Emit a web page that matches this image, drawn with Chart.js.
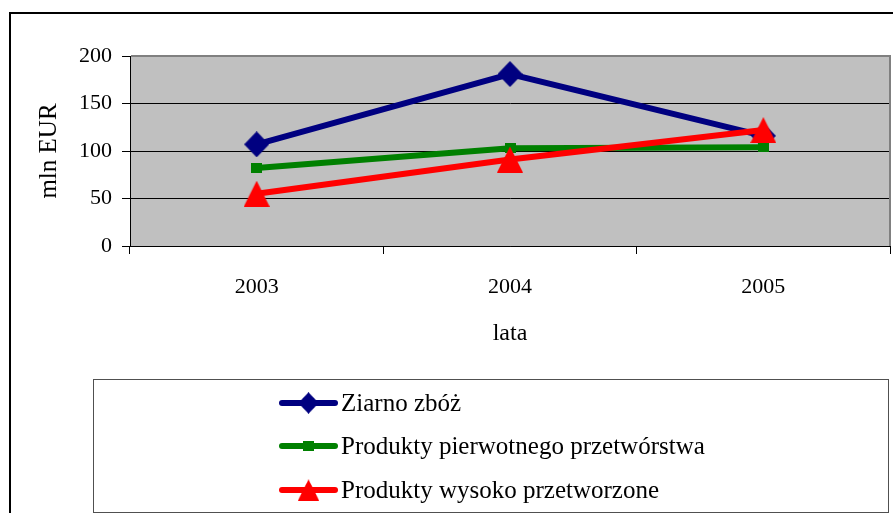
<!DOCTYPE html>
<html>
<head>
<meta charset="utf-8">
<script src="https://cdn.jsdelivr.net/npm/chart.js@4/dist/chart.umd.min.js"></script>
<style>
html,body{margin:0;padding:0;background:#fff;overflow:hidden;}
#wrap{width:893px;height:513px;position:relative;}
canvas{display:block;}
</style>
</head>
<body>
<div id="wrap"><canvas id="c" width="893" height="513"></canvas></div>
<script>
// ---- data ----
const categories = ['2003', '2004', '2005'];
const ziarnoZboz = [107, 181, 116];
const produktyPierwotne = [82, 103, 104];
const produktyWysoko = [55, 91, 122];
const seriesNames = ['Ziarno zbóż', 'Produkty pierwotnego przetwórstwa', 'Produkty wysoko przetworzone'];
const yTicks = [0, 50, 100, 150, 200];
const xTitle = 'lata';
const yTitle = 'mln EUR';

// ---- marker shapes ----
function makeMarker(kind, color, w, h) {
  const cv = document.createElement('canvas');
  cv.width = w; cv.height = h;
  const g = cv.getContext('2d');
  g.fillStyle = color;
  g.beginPath();
  if (kind === 'diamond') {
    g.moveTo(w / 2, 0); g.lineTo(w, h / 2); g.lineTo(w / 2, h); g.lineTo(0, h / 2);
  } else if (kind === 'triangle') {
    g.moveTo(w / 2, 0); g.lineTo(w, h); g.lineTo(0, h);
  } else {
    g.rect(0, 0, w, h);
  }
  g.closePath();
  g.fill();
  return cv;
}
const NAVY = '#000080', GREEN = '#008000', RED = '#FF0000';
const mDiamond = makeMarker('diamond', NAVY, 25, 26);
const mSquare = makeMarker('square', GREEN, 11, 10);
const mTriangle = makeMarker('triangle', RED, 26, 26);

const FAMILY = '"Liberation Serif", "Times New Roman", serif';
const FONT = {family: FAMILY, size: 22};

const framePlugin = {
  id: 'frame',
  beforeDraw(chart) {
    const {ctx, chartArea: a} = chart;
    ctx.save();
    ctx.fillStyle = '#fff';
    ctx.fillRect(0, 0, chart.width, chart.height);
    ctx.fillStyle = '#C0C0C0';
    ctx.fillRect(a.left, a.top, a.right - a.left, a.bottom - a.top);
    ctx.restore();
  },
  beforeDatasetsDraw(chart) {
    const {ctx, chartArea: a} = chart;
    ctx.save();
    ctx.strokeStyle = '#808080';
    ctx.lineWidth = 2;
    ctx.beginPath();
    ctx.moveTo(a.left + 1, a.top);
    ctx.lineTo(a.right, a.top);
    ctx.lineTo(a.right, a.bottom);
    ctx.stroke();
    ctx.restore();
  },
  afterDraw(chart) {
    const {ctx} = chart;
    ctx.save();
    // outer frame
    ctx.strokeStyle = '#000';
    ctx.lineWidth = 2;
    ctx.strokeRect(10, 13, 900, 520);
    // legend box
    ctx.strokeStyle = '#505050';
    ctx.lineWidth = 1;
    ctx.strokeRect(93.5, 379.5, 795, 133);
    const ys = [403, 446, 490];
    ctx.font = '25px ' + FAMILY;
    ctx.textBaseline = 'middle';
    chart.data.datasets.forEach((ds, i) => {
      const y = ys[i];
      ctx.strokeStyle = ds.borderColor;
      ctx.lineWidth = 6;
      ctx.lineCap = 'round';
      ctx.beginPath();
      ctx.moveTo(282, y);
      ctx.lineTo(335, y);
      ctx.stroke();
      const img = ds.pointStyle;
      const sc = i === 1 ? 1 : 0.82;
      const w = img.width * sc, h = img.height * sc;
      ctx.drawImage(img, 308.5 - w / 2, y - h / 2, w, h);
      ctx.fillStyle = '#000';
      ctx.fillText(ds.label, 341, y + 1);
    });
    ctx.restore();
  }
};

new Chart(document.getElementById('c'), {
  type: 'line',
  data: {
    labels: categories,
    datasets: [
      {label: seriesNames[0], data: ziarnoZboz, borderColor: NAVY, backgroundColor: NAVY,
       borderWidth: 6, pointStyle: mDiamond, pointRadius: 12, order: 2, tension: 0},
      {label: seriesNames[1], data: produktyPierwotne, borderColor: GREEN, backgroundColor: GREEN,
       borderWidth: 6, pointStyle: mSquare, pointRadius: 6, order: 1, tension: 0},
      {label: seriesNames[2], data: produktyWysoko, borderColor: RED, backgroundColor: RED,
       borderWidth: 6, pointStyle: mTriangle, pointRadius: 12, order: 0, tension: 0}
    ]
  },
  options: {
    responsive: false,
    animation: false,
    devicePixelRatio: 1,
    layout: {autoPadding: false, padding: {left: 0, top: 56, right: 3, bottom: 165}},
    plugins: {legend: {display: false}, tooltip: {enabled: false}},
    scales: {
      x: {
        type: 'category',
        offset: true,
        grid: {offset: true, drawOnChartArea: false, drawTicks: true, tickLength: 8, color: '#000', lineWidth: 1},
        border: {display: true, color: '#000', width: 1},
        ticks: {font: FONT, color: '#000', padding: 20, maxRotation: 0, autoSkip: false},
        title: {display: true, text: xTitle, font: {family: FAMILY, size: 24}, color: '#000', padding: {top: 0, bottom: 0}},
        afterFit(s) { s.height = 102; s.paddingLeft = 0; s.paddingRight = 0; }
      },
      y: {
        min: yTicks[0],
        max: yTicks[yTicks.length - 1],
        afterBuildTicks(s) { s.ticks = yTicks.map(v => ({value: v})); },
        grid: {color: '#000', tickLength: 8, lineWidth: 1},
        border: {display: true, color: '#000', width: 1},
        ticks: {font: FONT, color: '#000', padding: 10},
        title: {display: true, text: yTitle, font: {family: FAMILY, size: 25}, color: '#000', padding: {top: 34, bottom: 0}},
        afterFit(s) { s.width = 130; s.paddingTop = 0; s.paddingBottom = 0; }
      }
    }
  },
  plugins: [framePlugin]
});
</script>
</body>
</html>
